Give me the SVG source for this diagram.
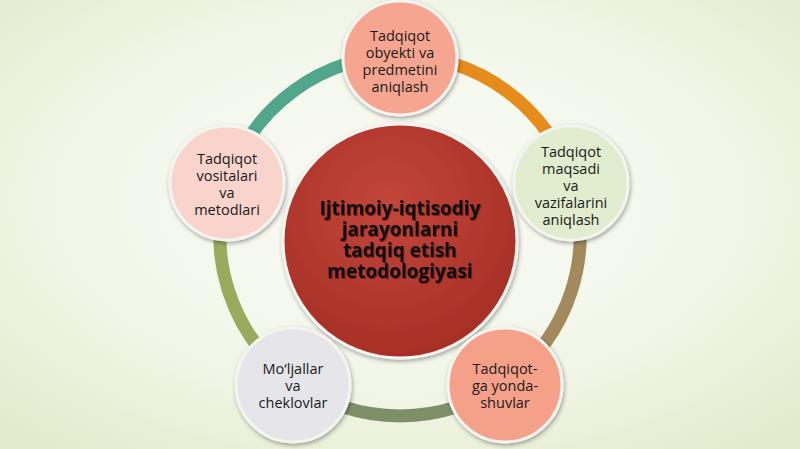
<svg xmlns="http://www.w3.org/2000/svg" width="800" height="449" viewBox="0 0 800 449">
<defs>
<radialGradient id="bg" cx="50%" cy="45%" r="70%"><stop offset="0" stop-color="#fbfcf7"/><stop offset="0.6" stop-color="#f2f6e8"/><stop offset="1" stop-color="#e3ebcc"/></radialGradient>
<radialGradient id="cg" cx="45%" cy="35%" r="70%"><stop offset="0" stop-color="#c2463a"/><stop offset="1" stop-color="#a52d24"/></radialGradient>
<filter id="sh" x="-20%" y="-20%" width="140%" height="140%"><feDropShadow dx="1" dy="2" stdDeviation="2" flood-opacity="0.35"/></filter>
<filter id="ts"><feDropShadow dx="1" dy="1" stdDeviation="0.5" flood-color="#5a1410" flood-opacity="0.8"/></filter>
</defs>
<style>
.ring{fill:none;stroke-width:13}
.nd{stroke:#f4f4f0;stroke-width:3;filter:url(#sh)}
.t{font-family:"Open Sans","Noto Sans",sans-serif;font-size:14.5px;fill:#1a1a1a;text-anchor:middle}
.c{font-family:"Open Sans","Noto Sans",sans-serif;font-size:19px;font-weight:bold;fill:#111;text-anchor:middle;filter:url(#ts)}
</style>
<rect width="800" height="449" fill="url(#bg)"/>
<g id="connectors">
<path class="ring" stroke="#e68c1c" d="M400,56 A180,180 0 0 1 571.2,180.4"/>
<path class="ring" stroke="#a38a5e" d="M571.2,180.4 A180,180 0 0 1 505.8,381.6"/>
<path class="ring" stroke="#7f9069" d="M505.8,381.6 A180,180 0 0 1 294.2,381.6"/>
<path class="ring" stroke="#9bab5e" d="M294.2,381.6 A180,180 0 0 1 228.8,180.4"/>
<path class="ring" stroke="#52a68b" d="M228.8,180.4 A180,180 0 0 1 400,56"/>
</g>
<g id="center">
<circle cx="400" cy="241" r="117" fill="url(#cg)" class="nd"/>
<text class="c" x="400" y="215">Ijtimoiy-iqtisodiy</text>
<text class="c" x="400" y="236">jarayonlarni</text>
<text class="c" x="400" y="257">tadqiq etish</text>
<text class="c" x="400" y="278">metodologiyasi</text>
</g>
<g id="n1">
<circle cx="400" cy="58" r="57" fill="#f6a690" class="nd"/>
<text class="t" x="400" y="41">Tadqiqot</text>
<text class="t" x="400" y="58">obyekti va</text>
<text class="t" x="400" y="75">predmetini</text>
<text class="t" x="400" y="92">aniqlash</text>
</g>
<g id="n2">
<circle cx="571" cy="183" r="57" fill="#e2ecce" class="nd"/>
<text class="t" x="571" y="157">Tadqiqot</text>
<text class="t" x="571" y="174">maqsadi</text>
<text class="t" x="571" y="191">va</text>
<text class="t" x="571" y="208">vazifalarini</text>
<text class="t" x="571" y="225">aniqlash</text>
</g>
<g id="n3">
<circle cx="505" cy="385" r="57" fill="#f5a189" class="nd"/>
<text class="t" x="505" y="374">Tadqiqot-</text>
<text class="t" x="505" y="391">ga yonda-</text>
<text class="t" x="505" y="408">shuvlar</text>
</g>
<g id="n4">
<circle cx="293" cy="385" r="57" fill="#e6e6ea" class="nd"/>
<text class="t" x="293" y="374">Mo‘ljallar</text>
<text class="t" x="293" y="391">va</text>
<text class="t" x="293" y="408">cheklovlar</text>
</g>
<g id="n5">
<circle cx="227" cy="183" r="57" fill="#f9d4cd" class="nd"/>
<text class="t" x="227" y="164">Tadqiqot</text>
<text class="t" x="227" y="181">vositalari</text>
<text class="t" x="227" y="198">va</text>
<text class="t" x="227" y="215">metodlari</text>
</g>
</svg>
